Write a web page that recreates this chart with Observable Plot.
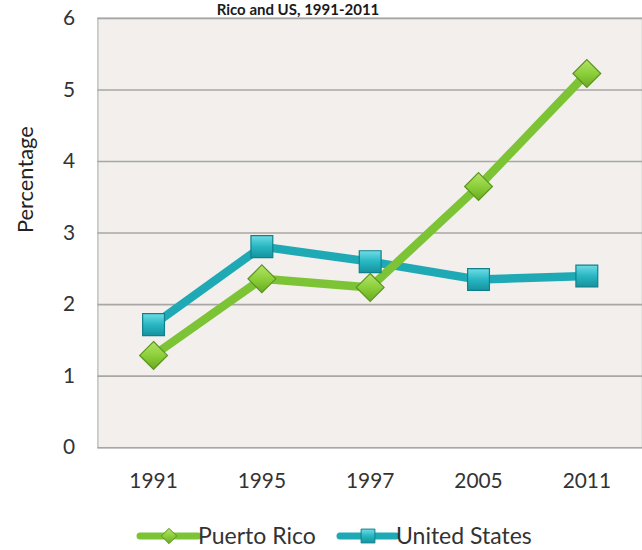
<!DOCTYPE html>
<html>
<head>
<meta charset="utf-8">
<script src="https://cdn.jsdelivr.net/npm/d3@7"></script>
<script src="https://cdn.jsdelivr.net/npm/@observablehq/plot@0.6"></script>
<style>
  html, body { margin: 0; padding: 0; background: #fff; overflow: hidden; width: 642px; height: 550px; }
  #wrap { position: relative; width: 642px; height: 550px; font-family: Lato, "Noto Sans", sans-serif; }
  #title { position: absolute; top: 2px; left: 0; width: 596px; text-align: center; font-weight: bold; font-size: 15px; line-height: 15px; color: #1a1a1a; z-index: 2; }
  #chart { position: absolute; top: 0; left: 0; }
  #legend { position: absolute; top: 515px; left: 0; width: 642px; height: 35px; }
</style>
</head>
<body>
<div id="wrap">
  <div id="chart"></div>
  <div id="title">Rico and US, 1991-2011</div>
  <svg id="legend" width="642" height="35"></svg>
</div>
<svg width="0" height="0" style="position:absolute">
  <defs>
    <linearGradient id="gradGreen" x1="0" y1="0" x2="0" y2="1">
      <stop offset="0" stop-color="#b5e36a"/>
      <stop offset="0.5" stop-color="#8ccf3a"/>
      <stop offset="1" stop-color="#6aaa22"/>
    </linearGradient>
    <linearGradient id="gradTeal" x1="0" y1="0" x2="0" y2="1">
      <stop offset="0" stop-color="#6fdde6"/>
      <stop offset="0.5" stop-color="#27b6c2"/>
      <stop offset="1" stop-color="#15939e"/>
    </linearGradient>
  </defs>
</svg>
<script>
// Survey years and percentages for each series
const years = ["1991", "1995", "1997", "2005", "2011"];
const puertoRico = [1.29, 2.36, 2.24, 3.65, 5.23];
const unitedStates = [1.72, 2.81, 2.6, 2.35, 2.4];
const yTicks = [0, 1, 2, 3, 4, 5, 6];

const seriesNames = ["Puerto Rico", "United States"];
const seriesColors = ["#7cc435", "#1ea9b5"];
const seriesEdges = ["#5a9420", "#10808a"];

const rows = [
  ...years.map((year, i) => ({series: seriesNames[0], year, value: puertoRico[i]})),
  ...years.map((year, i) => ({series: seriesNames[1], year, value: unitedStates[i]}))
];
const pr = rows.filter(d => d.series === seriesNames[0]);
const us = rows.filter(d => d.series === seriesNames[1]);

const chart = Plot.plot({
  width: 646,
  height: 505,
  marginTop: 18,
  marginBottom: 55,
  marginLeft: 98,
  marginRight: 0,
  style: {fontFamily: "Lato, 'Noto Sans', sans-serif", fontSize: "21px", color: "#333", background: "transparent"},
  x: {type: "point", domain: years, padding: 0.5, label: null},
  y: {domain: [0, 6], label: null},
  marks: [
    Plot.frame({fill: "#f2efec", stroke: "#c4c2c0", strokeWidth: 1.5}),
    Plot.ruleY(yTicks, {stroke: "#a9a7a5", strokeWidth: 1.6}),
    Plot.axisY(yTicks, {tickSize: 0, tickPadding: 23, tickFormat: "d", label: null, fontSize: 21, fill: "#333"}),
    Plot.axisX({tickSize: 0, tickPadding: 26, label: null, fontSize: 21, fill: "#333"}),
    Plot.text(["Percentage"], {frameAnchor: "left", rotate: -90, dx: -72, fontSize: 22, fill: "#222"}),
    Plot.line(us, {x: "year", y: "value", stroke: seriesColors[1], strokeWidth: 8.5, strokeLinejoin: "round"}),
    Plot.line(pr, {x: "year", y: "value", stroke: seriesColors[0], strokeWidth: 8.5, strokeLinejoin: "round"}),
    Plot.dot(us, {x: "year", y: "value", symbol: "square", r: 12.4, fill: "url(#gradTeal)", stroke: seriesEdges[1], strokeWidth: 1.2}),
    Plot.dot(pr, {x: "year", y: "value", symbol: "diamond2", r: 12.6, fill: "url(#gradGreen)", stroke: seriesEdges[0], strokeWidth: 1.2})
  ]
});
document.getElementById("chart").append(chart);

// Legend: line swatch with marker, followed by the series name
const legend = d3.select("#legend");
const legendItems = [
  {name: seriesNames[0], color: seriesColors[0], edge: seriesEdges[0], grad: "url(#gradGreen)", x0: 140, x1: 198, symbol: d3.symbolDiamond2, size: 150},
  {name: seriesNames[1], color: seriesColors[1], edge: seriesEdges[1], grad: "url(#gradTeal)", x0: 340, x1: 396, symbol: d3.symbolSquare, size: 190}
];
const cy = 21;
for (const item of legendItems) {
  const g = legend.append("g");
  g.append("line").attr("x1", item.x0).attr("x2", item.x1).attr("y1", cy).attr("y2", cy)
    .attr("stroke", item.color).attr("stroke-width", 7).attr("stroke-linecap", "round");
  g.append("path").attr("d", d3.symbol(item.symbol, item.size)())
    .attr("transform", `translate(${(item.x0 + item.x1) / 2},${cy})`)
    .attr("fill", item.grad).attr("stroke", item.edge).attr("stroke-width", 1);
  g.append("text").attr("x", item.x1).attr("y", cy).attr("dy", "0.36em")
    .attr("font-family", "Lato, 'Noto Sans', sans-serif").attr("font-size", 23).attr("fill", "#333")
    .text(item.name);
}
</script>
</body>
</html>
